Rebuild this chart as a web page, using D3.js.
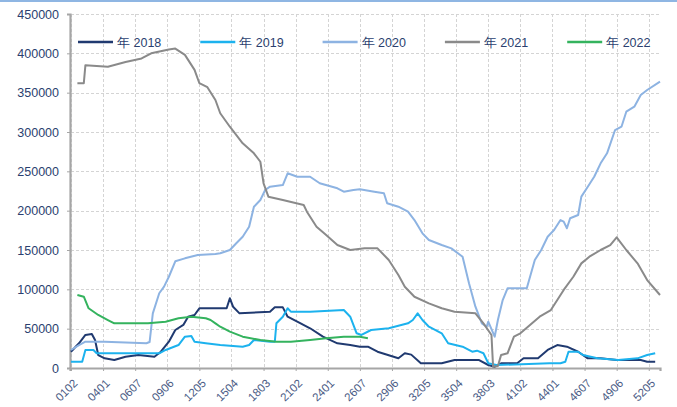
<!DOCTYPE html>
<html><head><meta charset="utf-8">
<script src="https://cdn.jsdelivr.net/npm/d3@7/dist/d3.min.js"></script>
<style>
html,body{margin:0;padding:0;background:#fff;}
svg{display:block;font-family:"Liberation Sans",Arial,sans-serif;}
</style></head>
<body>
<svg id="chart" width="677" height="407"></svg>
<script>
// ---- data (day-of-year index, value) ----
const tickLabels = ["0102","0401","0607","0906","1205","1504","1803","2102","2401","2607","2906","3205","3504","3803","4102","4401","4607","4906","5205"];
const yTicks = [0,50000,100000,150000,200000,250000,300000,350000,400000,450000];
const seriesNames = ["年 2018","年 2019","年 2020","年 2021","年 2022"];
const seriesColors = ["#203a70","#1cb2ee","#8db3e2","#8a8a8a","#34b35e"];

const days2018 = [2,7,11,15,17,19,23,29,36,44,54,58,63,67,72,75,79,82,99,101,103,107,126,129,134,137,143,151,159,168,176,182,187,193,206,210,214,220,233,241,256,262,266,270,280,284,293,299,305,311,318,324,332,342,357,361,366];
const vals2018 = [20700,31400,42000,43200,35600,16500,12300,10200,14400,16500,14400,20700,33400,48300,54700,65200,67400,75900,75900,88600,77900,69500,71600,77100,77100,65200,58900,50500,39800,31400,29200,27100,27100,20700,12300,18700,17000,6000,6000,10200,10200,3800,1700,6000,6000,12300,12300,22900,29200,27100,20700,12300,12300,10200,10200,8000,8000];

const days2019 = [2,9,11,16,18,57,61,69,73,77,79,86,95,109,113,116,126,129,130,134,137,139,151,172,176,180,183,189,200,212,215,218,221,225,233,237,246,252,255,259,262,267,300,307,310,312,318,321,330,343,355,361,366];
const vals2019 = [8000,8000,22900,22900,18700,18700,22900,29200,39800,40700,33400,31400,29200,27100,29200,35600,33400,33400,56800,65200,75900,71600,71600,73700,65200,44100,42000,48300,50500,56800,61000,69500,61000,52500,44100,31400,27100,20700,22000,18700,6000,3800,6000,6000,8000,20700,20700,16500,12300,10200,12300,16500,18700];

const days2020 = [2,7,11,23,49,51,53,57,60,63,67,73,81,92,95,101,105,109,113,116,120,123,126,134,137,143,151,157,168,172,178,182,191,197,199,206,212,216,221,225,233,239,246,250,254,258,261,262,266,268,271,274,286,291,295,299,303,307,309,311,313,318,320,324,328,332,336,341,345,348,353,357,361,369];
const vals2020 = [22900,29200,33400,33400,31400,33000,69500,95000,103400,116000,135600,139400,143600,144900,145800,150000,158500,166900,179600,205000,213500,226300,230500,232600,247500,243100,243100,234800,228400,224100,226300,227100,224100,222100,209400,205000,198700,188100,171200,162700,156300,152100,141500,107600,77900,56800,52500,58900,39800,61000,86400,101300,101300,137300,150000,166900,175400,188100,186000,177600,190300,194500,217800,230500,243100,260200,272900,302500,306700,325800,332200,347000,353400,364000];

const days2021 = [6,10,11,25,36,46,52,63,67,73,79,82,87,92,95,101,109,116,120,122,125,134,147,149,155,161,168,176,185,193,200,206,210,216,225,233,241,254,259,264,265,268,270,274,278,282,288,294,301,305,309,315,320,325,332,338,342,348,355,361,369];
const vals2021 = [362000,362000,385000,383000,389000,393500,400000,405000,406000,398000,379000,362000,357000,340700,323800,306700,285600,272900,262200,234800,217800,213500,207200,198700,179600,169000,156300,150000,152100,152100,137300,118200,103300,90600,82200,75900,71600,69500,56800,42000,1700,2500,16500,18700,39800,44100,54700,65200,73700,86400,99200,116000,133000,141500,150000,156300,166100,150000,133000,111800,92800];

const days2022 = [6,10,13,19,25,29,40,50,61,69,77,86,89,92,95,101,109,120,130,139,151,161,172,182,187];
const vals2022 = [92800,90600,75900,67400,61000,56800,56800,56800,58900,63200,65200,63200,61000,56800,52500,46200,39800,35600,33400,33400,35600,37700,39800,39800,37700];

const seriesDays = [days2018,days2019,days2020,days2021,days2022];
const seriesVals = [vals2018,vals2019,vals2020,vals2021,vals2022];

// ---- drawing ----
const svg = d3.select("#chart");
const x = d3.scaleLinear().domain([1.4, 369]).range([70, 660]);
const y = d3.scaleLinear().domain([0, 450000]).range([368, 14]);
const tickDays = tickLabels.map(l => (parseInt(l.slice(0,2),10)-1)*7 + parseInt(l.slice(2),10));

// top frame line
svg.append("line").attr("x1",0).attr("x2",677).attr("y1",1).attr("y2",1)
  .attr("stroke","#8fb6e3").attr("stroke-width",2);

// grid
const grid = svg.append("g");
grid.selectAll(".hg").data(yTicks.filter(d=>d>0)).join("line")
  .attr("x1",71).attr("x2",660).attr("y1",d=>Math.round(y(d))+0.5).attr("y2",d=>Math.round(y(d))+0.5)
  .attr("stroke","#d4d4d4").attr("stroke-width",1).attr("stroke-dasharray","3,2");
grid.selectAll(".vg").data(tickDays).join("line")
  .attr("x1",d=>Math.round(x(d))+0.5).attr("x2",d=>Math.round(x(d))+0.5).attr("y1",14).attr("y2",367)
  .attr("stroke","#d4d4d4").attr("stroke-width",1).attr("stroke-dasharray","3,2");

// axes
const yAxis = d3.axisLeft(y).tickValues(yTicks).tickSize(3).tickPadding(8).tickFormat(d3.format("d"));
const gy = svg.append("g").attr("transform","translate(70,0)").call(yAxis);
gy.select(".domain").attr("stroke","#a6a6a6").attr("stroke-width",2.2);
gy.selectAll(".tick line").attr("stroke","#a6a6a6");
gy.selectAll(".tick text").attr("fill","#2b3f6f").style("font-size","12.5px").attr("font-family","Liberation Sans, Arial, sans-serif");

const xAxis = d3.axisBottom(x).tickValues(tickDays).tickSize(3).tickFormat((d,i)=>tickLabels[i]);
const gx = svg.append("g").attr("transform","translate(0,368)").call(xAxis);
gx.select(".domain").attr("stroke","#a6a6a6").attr("stroke-width",2.2);
gx.selectAll(".tick line").attr("stroke","#a6a6a6");
gx.selectAll(".tick text")
  .attr("fill","#4a5b85").style("font-size","11.5px").attr("font-family","Liberation Sans, Arial, sans-serif")
  .attr("text-anchor","end").attr("y",0).attr("dy","0.35em")
  .attr("transform","translate(4,13) rotate(-45)");

// lines
const line = d3.line().x(d=>x(d[0])).y(d=>y(d[1]));
seriesNames.forEach((name,i)=>{
  const pts = seriesDays[i].map((d,j)=>[d, seriesVals[i][j]]);
  svg.append("path").datum(pts).attr("d",line)
    .attr("fill","none").attr("stroke",seriesColors[i]).attr("stroke-width",2)
    .attr("stroke-linejoin","round");
});

// legend
const lg = svg.append("g");
seriesNames.forEach((name,i)=>{
  const lx = 78 + i*122.3;
  lg.append("line").attr("x1",lx).attr("x2",lx+35).attr("y1",42).attr("y2",42)
    .attr("stroke",seriesColors[i]).attr("stroke-width",2.5);
  lg.append("text").attr("x",lx+39).attr("y",46.5).text(name)
    .attr("fill","#2b3f6f").style("font-size","12.5px");
});
</script>
</body></html>
